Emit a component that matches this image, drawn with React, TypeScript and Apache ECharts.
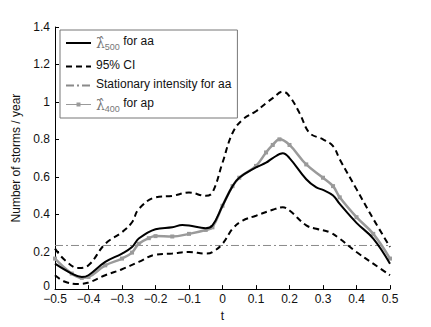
import React, { useEffect, useRef } from "react";
import * as echarts from "echarts";

const tAA = [-0.5, -0.45, -0.42, -0.4, -0.35, -0.3, -0.27, -0.25, -0.2, -0.15, -0.12, -0.1, -0.05, -0.03, 0, 0.03, 0.05, 0.1, 0.13, 0.15, 0.18, 0.2, 0.25, 0.28, 0.3, 0.33, 0.35, 0.4, 0.45, 0.5];
const lambdaAA = [0.136, 0.083, 0.065, 0.074, 0.145, 0.19, 0.225, 0.27, 0.32, 0.33, 0.343, 0.34, 0.325, 0.34, 0.445, 0.55, 0.595, 0.65, 0.675, 0.7, 0.725, 0.7, 0.587, 0.543, 0.53, 0.5, 0.455, 0.354, 0.27, 0.136];

const tAP = [-0.5, -0.45, -0.42, -0.4, -0.35, -0.3, -0.27, -0.25, -0.22, -0.2, -0.15, -0.1, -0.05, -0.03, 0, 0.03, 0.05, 0.1, 0.13, 0.15, 0.17, 0.2, 0.25, 0.3, 0.33, 0.35, 0.4, 0.45, 0.5];
const lambdaAP = [0.163, 0.083, 0.06, 0.065, 0.127, 0.163, 0.195, 0.242, 0.272, 0.283, 0.281, 0.295, 0.316, 0.33, 0.445, 0.55, 0.595, 0.658, 0.73, 0.77, 0.8, 0.77, 0.666, 0.595, 0.55, 0.49, 0.384, 0.295, 0.163];

const tUp = [-0.5, -0.47, -0.43, -0.4, -0.35, -0.3, -0.27, -0.25, -0.2, -0.15, -0.1, -0.05, -0.03, 0, 0.03, 0.06, 0.1, 0.13, 0.15, 0.18, 0.2, 0.23, 0.26, 0.3, 0.33, 0.35, 0.4, 0.45, 0.5];
const ciUpper = [0.216, 0.154, 0.113, 0.127, 0.242, 0.304, 0.357, 0.428, 0.49, 0.498, 0.516, 0.498, 0.516, 0.675, 0.834, 0.905, 0.95, 0.993, 1.02, 1.055, 1.03, 0.94, 0.834, 0.8, 0.764, 0.693, 0.534, 0.375, 0.225];

const tLo = [-0.5, -0.47, -0.43, -0.4, -0.35, -0.3, -0.25, -0.2, -0.15, -0.1, -0.05, -0.03, 0, 0.03, 0.06, 0.1, 0.15, 0.18, 0.2, 0.25, 0.28, 0.32, 0.35, 0.4, 0.45, 0.5];
const ciLower = [0.074, 0.039, 0.027, 0.035, 0.074, 0.106, 0.145, 0.184, 0.19, 0.198, 0.19, 0.198, 0.242, 0.322, 0.366, 0.392, 0.424, 0.437, 0.42, 0.34, 0.322, 0.304, 0.269, 0.198, 0.136, 0.074];

const stationaryT = [-0.5, 0.5];
const stationaryValue = [0.233, 0.233];

const xTicks = { min: -0.5, max: 0.5, interval: 0.1 };
const yTicks = { min: 0, max: 1.4, interval: 0.2 };

const NAME_AA = "λ500 for aa";
const NAME_CI = "95% CI";
const NAME_ST = "Stationary intensity for aa";
const NAME_AP = "λ400 for ap";

const zip = (xs: number[], ys: number[]) => xs.map((x, i) => [x, ys[i]]);
const FONT = "Liberation Sans, Arial, sans-serif";

export default function App() {
  const ref = useRef<HTMLDivElement>(null);
  useEffect(() => {
    if (!ref.current) return;
    const chart = echarts.init(ref.current, undefined, { renderer: "svg" });
    const fmt = (v: number) => {
      const r = Math.round(v * 10) / 10;
      return String(r).replace("-", "\u2212");
    };
    const hidden = { color: "rgba(0,0,0,0)", borderWidth: 0, opacity: 0 };
    chart.setOption({
      animation: false,
      backgroundColor: "#ffffff",
      grid: { left: 55, right: 41, top: 27, bottom: 36 },
      textStyle: { fontFamily: FONT },
      legend: {
        orient: "vertical",
        left: 60,
        top: 30,
        padding: [5, 6, 5, 5],
        itemGap: 7,
        itemWidth: 25,
        itemHeight: 5,
        borderColor: "#777",
        borderWidth: 1,
        backgroundColor: "#fff",
        data: [
          { name: NAME_AA, itemStyle: hidden },
          { name: NAME_CI, itemStyle: hidden },
          { name: NAME_ST, itemStyle: hidden },
          { name: NAME_AP, lineStyle: { width: 1 } },
        ],
        formatter: (name: string) => {
          if (name === NAME_AA) return "{lam|λ̂}{sub|500}{t| for aa}";
          if (name === NAME_AP) return "{lam|λ̂}{sub|400}{t| for ap}";
          return "{t|" + name + "}";
        },
        textStyle: {
          fontFamily: FONT,
          fontSize: 12,
          color: "#111",
          rich: {
            t: { fontSize: 12, color: "#111", fontFamily: FONT, padding: [0, 0, 4, 0] },
            lam: { fontSize: 14, color: "#777", fontFamily: "DejaVu Serif, serif" },
            sub: { fontSize: 9, color: "#777", fontFamily: FONT, padding: [8, 0, 0, 0] },
          },
        },
      },
      xAxis: {
        type: "value",
        min: xTicks.min,
        max: xTicks.max,
        interval: xTicks.interval,
        name: "t",
        nameLocation: "middle",
        nameGap: 20,
        nameTextStyle: { fontFamily: FONT, fontSize: 12, color: "#111" },
        axisLine: { onZero: false, lineStyle: { color: "#000", width: 1 } },
        axisTick: { inside: true, length: 4, lineStyle: { color: "#000" } },
        splitLine: { show: false },
        axisLabel: { formatter: fmt, fontFamily: FONT, fontSize: 12, color: "#111", margin: 4 },
      },
      yAxis: {
        type: "value",
        min: yTicks.min,
        max: yTicks.max,
        interval: yTicks.interval,
        name: "Number of storms / year",
        nameLocation: "middle",
        nameGap: 28,
        nameTextStyle: { fontFamily: FONT, fontSize: 12, color: "#111" },
        axisLine: { show: true, onZero: false, lineStyle: { color: "#000", width: 1 } },
        axisTick: { show: true, inside: true, length: 4, lineStyle: { color: "#000" } },
        splitLine: { show: false },
        axisLabel: {
          formatter: (v: number) => {
            const s = String(Math.round(v * 10) / 10);
            return v === 0 ? "{z|" + s + "}" : s;
          },
          rich: { z: { fontFamily: FONT, fontSize: 12, color: "#111", padding: [0, 0, 6, 0] } },
          fontFamily: FONT,
          fontSize: 12,
          color: "#111",
          margin: 5,
        },
      },
      series: [
        {
          name: NAME_ST,
          type: "line",
          data: zip(stationaryT, stationaryValue),
          showSymbol: false,
          symbol: "none",
          lineStyle: { color: "#8a8a8a", width: 1, type: [8, 3, 2, 3] },
          itemStyle: { color: "#8a8a8a" },
          z: 1,
        },
        {
          name: NAME_CI,
          type: "line",
          data: zip(tUp, ciUpper),
          smooth: 0.4,
          symbol: "none",
          lineStyle: { color: "#000", width: 2, type: [6, 4] },
          itemStyle: { color: "#000" },
          z: 2,
        },
        {
          name: NAME_CI,
          type: "line",
          data: zip(tLo, ciLower),
          smooth: 0.4,
          symbol: "none",
          lineStyle: { color: "#000", width: 2, type: [6, 4] },
          itemStyle: { color: "#000" },
          z: 2,
        },
        {
          name: NAME_AP,
          type: "line",
          data: zip(tAP, lambdaAP),
          smooth: 0.4,
          symbol: "rect",
          symbolSize: 4,
          showSymbol: true,
          lineStyle: { color: "#9a9a9a", width: 2.5 },
          itemStyle: { color: "#9a9a9a" },
          z: 3,
        },
        {
          name: NAME_AA,
          type: "line",
          data: zip(tAA, lambdaAA),
          smooth: 0.4,
          symbol: "none",
          lineStyle: { color: "#000", width: 2 },
          itemStyle: { color: "#000" },
          z: 4,
        },
      ],
    });
    return () => chart.dispose();
  }, []);
  return <div ref={ref} style={{ width: 431, height: 327, position: "absolute", left: 0, top: 0 }} />;
}
